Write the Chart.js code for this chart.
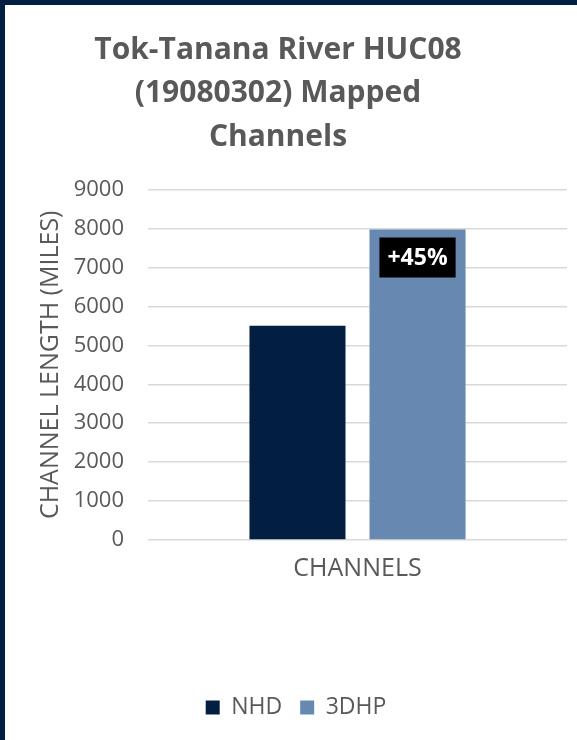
<!DOCTYPE html>
<html>
<head>
<meta charset="utf-8">
<script src="https://cdn.jsdelivr.net/npm/chart.js@4"></script>
<style>
  html, body { margin: 0; padding: 0; background: #fff; }
  #frame {
    width: 572px;
    height: 735px;
    border-top: 5px solid #021E41;
    border-left: 5px solid #021E41;
    position: relative;
  }
</style>
</head>
<body>
<div id="frame"><canvas id="channelChart" width="572" height="735"></canvas></div>
<script>
// Chart data
const categories = ['CHANNELS'];
const seriesNames = ['NHD', '3DHP'];
const seriesValues = [[5500], [7975]];
const barLabels = ['', '+45%'];
const yTicks = [0, 1000, 2000, 3000, 4000, 5000, 6000, 7000, 8000, 9000];

const seriesColors = ['#021E41', '#6788B1'];
const textGrey = '#595959';
const fontFamily = "'Segoe UI', 'Open Sans', 'Noto Sans', sans-serif";

// black box with white text on top of the bar
const barLabelPlugin = {
    id: 'barLabel',
    afterDatasetsDraw(chart) {
        const ctx = chart.ctx;
        chart.data.datasets.forEach((ds, i) => {
            const text = barLabels[i];
            if (!text) return;
            chart.getDatasetMeta(i).data.forEach(bar => {
                ctx.save();
                ctx.font = "bold 23px " + fontFamily;
                const w = ctx.measureText(text).width + 16;
                const h = 40;
                const top = bar.y + 8;
                ctx.fillStyle = '#000';
                ctx.fillRect(bar.x - w / 2, top, w, h);
                ctx.fillStyle = '#fff';
                ctx.textAlign = 'center';
                ctx.textBaseline = 'middle';
                ctx.fillText(text, bar.x, top + h / 2 + 1);
                ctx.restore();
            });
        });
    }
};

// title is centred a bit left of the canvas middle
const titleShift = {
    id: 'titleShift',
    afterLayout(chart) {
        chart.titleBlock.right = chart.titleBlock.left + 506;
    }
};

new Chart(document.getElementById('channelChart').getContext('2d'), {
    type: 'bar',
    data: {
        labels: categories,
        datasets: seriesNames.map((name, i) => ({
            label: name,
            data: seriesValues[i],
            backgroundColor: seriesColors[i],
            categoryPercentage: 0.573,
            barPercentage: 0.8
        }))
    },
    options: {
        responsive: false,
        animation: false,
        layout: { padding: { left: 20, right: 10, top: 0, bottom: 11 } },
        scales: {
            y: {
                min: 0,
                max: 9000,
                afterBuildTicks: scale => { scale.ticks = yTicks.map(v => ({ value: v })); },
                afterFit: scale => { scale.width = 123; },
                grid: { color: '#D9D9D9', lineWidth: 1.5, drawTicks: false },
                border: { display: false },
                ticks: {
                    color: textGrey,
                    padding: 24,
                    font: { family: fontFamily, size: 22 },
                    callback: v => String(v)
                },
                title: {
                    display: true,
                    text: 'CHANNEL LENGTH (MILES)',
                    color: textGrey,
                    padding: { top: 11, bottom: 0 },
                    font: { family: fontFamily, size: 25 }
                }
            },
            x: {
                afterFit: scale => { scale.height = 138; },
                grid: { display: false },
                border: { display: false },
                ticks: { color: textGrey, padding: 6, font: { family: fontFamily, size: 25 } }
            }
        },
        plugins: {
            title: {
                display: true,
                text: ['Tok-Tanana River HUC08', '(19080302) Mapped', 'Channels'],
                color: textGrey,
                font: { family: fontFamily, size: 30, weight: 'bold', lineHeight: 1.44 },
                padding: { top: 24, bottom: 31 }
            },
            legend: {
                position: 'bottom',
                labels: {
                    color: textGrey,
                    boxWidth: 14,
                    boxHeight: 14,
                    padding: 18,
                    font: { family: fontFamily, size: 23 }
                }
            },
            tooltip: { enabled: false }
        }
    },
    plugins: [barLabelPlugin, titleShift]
});
</script>
</body>
</html>
